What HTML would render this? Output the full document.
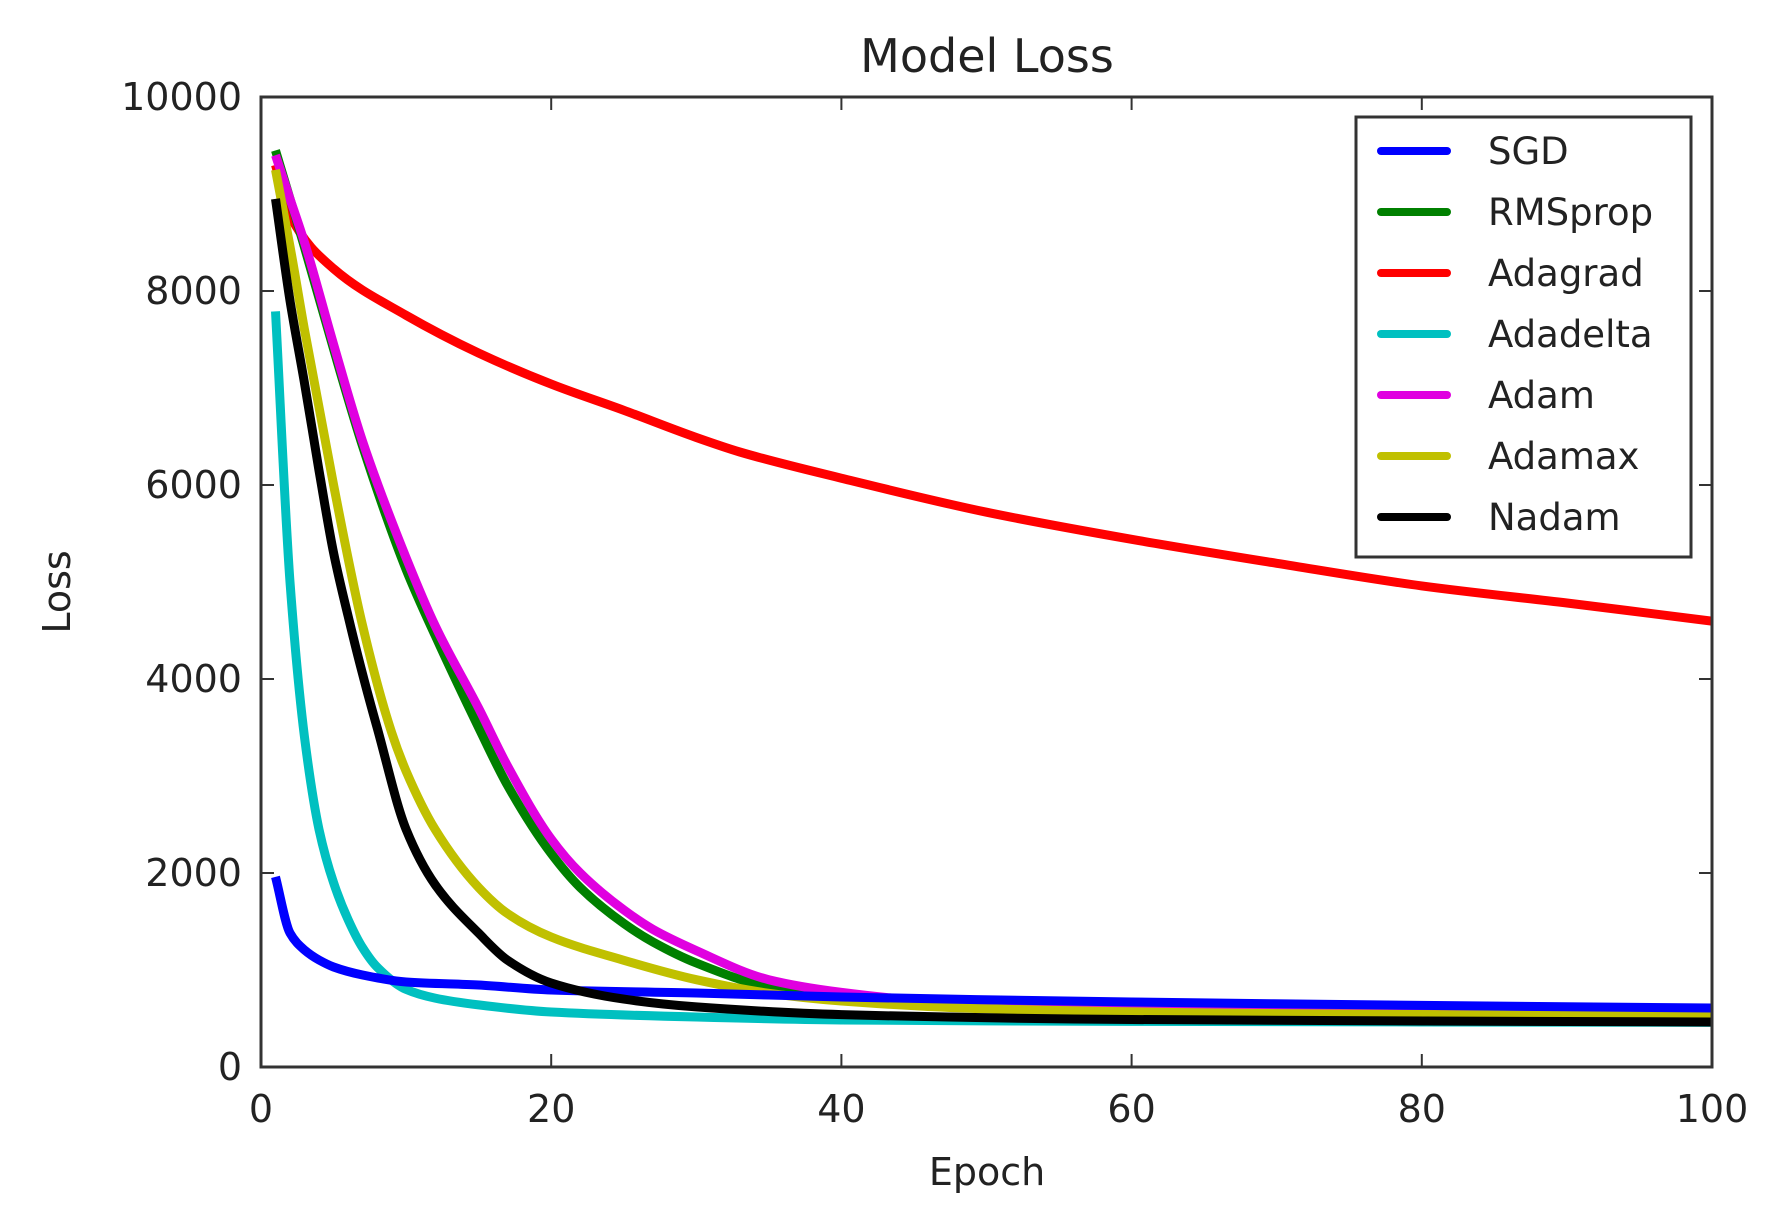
<!DOCTYPE html>
<html><head><meta charset="utf-8"><style>
html,body{margin:0;padding:0;background:#fff;}
svg{display:block;font-family:"DejaVu Sans","Liberation Sans",sans-serif;}
</style></head><body>
<svg id="chart" width="1777" height="1214" viewBox="0 0 1777 1214" xmlns="http://www.w3.org/2000/svg">
<text x="987" y="72" font-size="46" text-anchor="middle" fill="#222">Model Loss</text>
<text x="987" y="1185" font-size="38" text-anchor="middle" fill="#222">Epoch</text>
<text x="0" y="0" font-size="38" text-anchor="middle" fill="#222" transform="translate(70,592) rotate(-90)">Loss</text>
<g id="ticks"></g>
<clipPath id="clip"><rect x="261" y="97" width="1451" height="970"/></clipPath>
<g id="series" clip-path="url(#clip)"></g>
<rect x="261" y="97" width="1451" height="970" fill="none" stroke="#333" stroke-width="3"/>
<g id="legend"></g>
</svg>
<script>
const xTicks = [0, 20, 40, 60, 80, 100];
const yTicks = [0, 2000, 4000, 6000, 8000, 10000];
const seriesNames = ["SGD","RMSprop","Adagrad","Adadelta","Adam","Adamax","Nadam"];
const seriesColors = ["#0000ff","#008000","#ff0000","#00c0c0","#e000e0","#c0c000","#000000"];
const sgdX = [1,2,3,4,5,7,10,15,20,30,40,60,80,100];
const sgdY = [1960,1380,1206,1103,1031,948,876,845,794,763,722,670,635,608];
const rmsX = [1,2,3,5,7,10,12,15,17,20,22,25,27,30,35,40,50,60,80,100];
const rmsY = [9450,8950,8450,7400,6400,5130,4450,3500,2900,2200,1850,1480,1290,1072,825,720,620,575,545,530];
const adagradX = [1,2,5,10,15,20,25,30,33,40,50,60,70,80,90,100];
const adagradY = [9300,8780,8230,7750,7360,7040,6770,6490,6340,6070,5720,5440,5193,4960,4783,4596];
const adadeltaX = [1,2,3,4,5,6,7,8,10,12,15,20,30,40,60,100];
const adadeltaY = [7790,5000,3400,2450,1900,1520,1230,1030,800,710,640,567,515,485,470,460];
const adamX = [1,2,3,5,7,10,12,15,17,20,22,25,27,30,35,40,47,60,80,100];
const adamY = [9400,8950,8500,7450,6450,5250,4550,3700,3100,2350,2000,1620,1420,1200,900,770,670,600,560,540];
const adamaxX = [1,2,3,5,7,9,10,12,15,17,20,25,30,35,40,50,70,100];
const adamaxY = [9250,8460,7600,6000,4550,3450,3050,2450,1850,1580,1340,1100,900,760,680,600,550,525];
const nadamX = [1,2,3,4,5,6,7,8,10,12,15,17,20,25,30,40,60,100];
const nadamY = [8950,7900,7050,6150,5300,4650,4050,3500,2450,1880,1380,1100,866,700,620,540,490,464];

const X0=261, X1=1712, Y0=1067, Y1=97;
const xs = v => X0 + (v-0)/(100-0)*(X1-X0);
const ys = v => Y0 - v/10000*(Y0-Y1);
const NS="http://www.w3.org/2000/svg";
function mk(tag, attrs){const e=document.createElementNS(NS,tag);for(const k in attrs)e.setAttribute(k,attrs[k]);return e;}

function monoPath(px, py){
  const n=px.length, d=[], m=new Array(n);
  for(let i=0;i<n-1;i++) d.push((py[i+1]-py[i])/(px[i+1]-px[i]));
  m[0]=d[0]; m[n-1]=d[n-2];
  for(let i=1;i<n-1;i++){
    if(d[i-1]*d[i]<=0) m[i]=0;
    else { const h0=px[i]-px[i-1], h1=px[i+1]-px[i]; const w1=2*h1+h0, w2=h1+2*h0; m[i]=(w1+w2)/(w1/d[i-1]+w2/d[i]); }
  }
  let s='M'+px[0].toFixed(1)+','+py[0].toFixed(1);
  for(let i=0;i<n-1;i++){
    const h=(px[i+1]-px[i])/3;
    s+=' C'+(px[i]+h).toFixed(1)+','+(py[i]+m[i]*h).toFixed(1)+' '+(px[i+1]-h).toFixed(1)+','+(py[i+1]-m[i+1]*h).toFixed(1)+' '+px[i+1].toFixed(1)+','+py[i+1].toFixed(1);
  }
  return s;
}

const ticks=document.getElementById('ticks');
xTicks.forEach(t=>{
  const x=xs(t);
  const a=mk('line',{x1:x,x2:x,y1:Y0,y2:Y0-13,stroke:'#333','stroke-width':2});
  
  
  ticks.appendChild(a);
  const b=mk('line',{x1:x,x2:x,y1:Y1,y2:Y1+13,stroke:'#333','stroke-width':2});
  
  
  ticks.appendChild(b);
  const tx=mk('text',{x:x,y:1122,'font-size':38,'text-anchor':'middle',fill:'#222'});
  tx.textContent=t;
  
  
  ticks.appendChild(tx);
});
yTicks.forEach(t=>{
  const y=ys(t);
  const a=mk('line',{x1:X0,x2:X0+13,y1:y,y2:y,stroke:'#333','stroke-width':2});
  
  
  ticks.appendChild(a);
  const b=mk('line',{x1:X1,x2:X1-13,y1:y,y2:y,stroke:'#333','stroke-width':2});
  
  
  ticks.appendChild(b);
  const tx=mk('text',{x:242,y:y+13,'font-size':38,'text-anchor':'end',fill:'#222'});
  tx.textContent=t;
  
  
  ticks.appendChild(tx);
});

const seriesData=[[sgdX,sgdY],[rmsX,rmsY],[adagradX,adagradY],[adadeltaX,adadeltaY],[adamX,adamY],[adamaxX,adamaxY],[nadamX,nadamY]];
const drawOrder=[2,3,1,4,5,0,6];
const sg=document.getElementById('series');
drawOrder.forEach(i=>{
  const [X,Y]=seriesData[i];
  const p=mk('path',{d:monoPath(X.map(xs),Y.map(ys)),fill:'none',stroke:seriesColors[i],'stroke-width':9,'stroke-linejoin':'round','stroke-linecap':'butt'});
  
  
  sg.appendChild(p);
});

const lg=document.getElementById('legend');
const box=mk('rect',{x:1356,y:117,width:335,height:440,fill:'#fff',stroke:'#333','stroke-width':3});


lg.appendChild(box);
seriesNames.forEach((n,i)=>{
  const cy=151+i*61;
  const l=mk('line',{x1:1381,x2:1447,y1:cy,y2:cy,stroke:seriesColors[i],'stroke-width':8,'stroke-linecap':'round'});
  
  
  lg.appendChild(l);
  const t=mk('text',{x:1488,y:cy+13,'font-size':37,fill:'#222'});
  t.textContent=n;
  
  
  lg.appendChild(t);
});
</script>
</body></html>
